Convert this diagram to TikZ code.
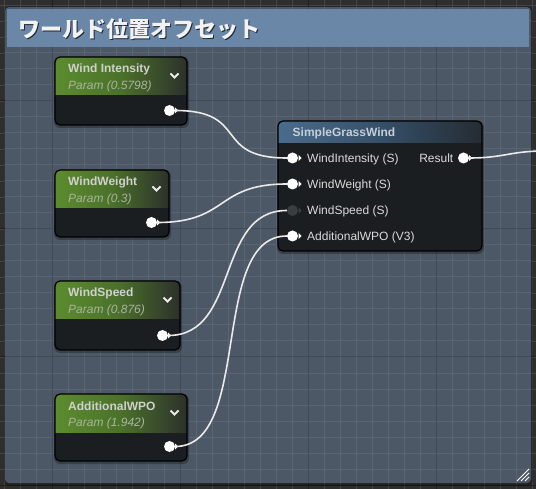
\documentclass[tikz,border=0pt]{standalone}
\usepackage{fontspec}
\setmainfont{Liberation Sans}
\newfontfamily\jpfont{Noto Sans CJK JP}
\definecolor{outerbg}{HTML}{2E2E2E}
\definecolor{outerline}{HTML}{1F1F1F}
\definecolor{combg}{HTML}{4D5866}
\definecolor{minorline}{HTML}{5A6573}
\definecolor{majorline}{HTML}{414A55}
\definecolor{hdrblue}{HTML}{6B87A8}
\definecolor{nodebody}{HTML}{1B1E20}
\definecolor{greenA}{HTML}{5C8C2E}
\definecolor{greenB}{HTML}{4B712A}
\definecolor{greenC}{HTML}{2C302B}
\definecolor{blueA}{HTML}{4A6C8C}
\definecolor{blueB}{HTML}{35506A}
\definecolor{blueC}{HTML}{252C33}
\definecolor{titletext}{HTML}{D0D0D0}
\definecolor{paramtext}{HTML}{A9B59C}
\definecolor{pintext}{HTML}{DADADA}
\definecolor{sgwtext}{HTML}{C6CED6}
\definecolor{wirecol}{HTML}{EAEAEA}
\definecolor{pinoff}{HTML}{3A3E41}
\tikzset{
  nodebox/.style={fill=nodebody, rounded corners=5pt, inner sep=0pt, outer sep=0pt},
  nodeborder/.style={draw=black, line width=1.2pt, rounded corners=5pt},
  nodeshadow/.style={fill=black, opacity=0.28, rounded corners=6pt},
  titlestyle/.style={inner sep=0pt, text=titletext, font=\bfseries\fontsize{12}{14}\selectfont},
  paramstyle/.style={inner sep=0pt, text=paramtext, font=\itshape\fontsize{12}{14}\selectfont},
  pinlabel/.style={inner sep=0pt, text=pintext, font=\fontsize{12}{14}\selectfont},
  pinc/.style={circle, fill=white, inner sep=0pt, minimum size=11pt},
  pincoff/.style={circle, fill=pinoff, inner sep=0pt, minimum size=11pt},
  chev/.style={draw=white!92!black, line width=1.8pt},
  wire/.style={draw=wirecol, line width=1.6pt},
}
\newcommand\paramnode[7]{%
  \fill[nodeshadow] (#2-1,#3) rectangle (#4+2,#5+3);
  \node[nodebox, anchor=north west, minimum width={#4-#2}, minimum height={#5-#3}] (#1) at (#2,#3) {};
  \begin{scope}
    \clip[rounded corners=5pt] (#2,#3) rectangle (#4,#5);
    \shade[left color=greenA, right color=greenC, middle color=greenB] (#2,#3) rectangle (#4,#3+38);
  \end{scope}
  \draw[nodeborder] (#2,#3) rectangle (#4,#5);
  \node[titlestyle, anchor=base west] (#1-t) at (#2+13,#3+16) {#6};
  \node[paramstyle, anchor=base west] (#1-p) at (#2+13,#3+32.5) {#7};
  \draw[chev] (#4-16.5,#3+16.5) -- (#4-12.5,#3+20.5) -- (#4-8.5,#3+16.5);
  \node[pinc] (#1-out) at (#4-17.5,#5-14.5) {};
  \fill[white] (#4-12,#5-17.5) -- (#4-9,#5-14.5) -- (#4-12,#5-11.5) -- cycle;
}
\begin{document}
\begin{tikzpicture}[x=1pt,y=-1pt]
\useasboundingbox (0,0) rectangle (536,489);
\clip (0,0) rectangle (536,489);
% outer background
\fill[outerbg] (0,0) rectangle (536,489);
\foreach \x in {4,20,...,532} \draw[gray!30!outerbg, line width=0.8pt] (\x,0) -- (\x,489);
\foreach \y in {5,21,...,485} \draw[gray!30!outerbg, line width=0.8pt] (0,\y) -- (536,\y);
\foreach \x in {52,180,308,436} \draw[outerline, line width=1pt] (\x,0) -- (\x,489);
\foreach \y in {101,229,357,485} \draw[outerline, line width=1pt] (0,\y) -- (536,\y);
% comment box
\fill[black, opacity=0.25, rounded corners=5pt] (4,6) rectangle (533,486);
\fill[combg, rounded corners=4pt] (5,7) rectangle (531,483);
\begin{scope}
  \clip[rounded corners=4pt] (5,7) rectangle (531,483);
  \foreach \x in {4,20,...,532} \draw[minorline, line width=1pt] (\x,0) -- (\x,489);
  \foreach \y in {5,21,...,485} \draw[minorline, line width=1pt] (0,\y) -- (536,\y);
  \foreach \x in {52,180,308,436} \draw[majorline, line width=1pt] (\x,0) -- (\x,489);
  \foreach \y in {101,229,357,485} \draw[majorline, line width=1pt] (0,\y) -- (536,\y);
\end{scope}
% header
\fill[hdrblue] (7,9) rectangle (529,47);
\node[anchor=base west, inner sep=0pt, text=black, opacity=0.7, font=\jpfont\bfseries\fontsize{22}{24}\selectfont] (hdrshadow) at (19.5,39) {ワールド位置オフセット};
\node[anchor=base west, inner sep=0pt, text=white!95!black, font=\jpfont\bfseries\fontsize{22}{24}\selectfont] (hdr) at (18,37.5) {ワールド位置オフセット};
% resize grip
\draw[white, line width=1pt] (517,481) -- (529,469) (521,481) -- (529,473) (525,481) -- (529,477);
% parameter nodes
\paramnode{wi}{55}{57}{187}{125}{Wind Intensity}{Param (0.5798)}
\paramnode{ww}{55}{170}{169}{237}{WindWeight}{Param (0.3)}
\paramnode{ws}{55}{281}{180}{350}{WindSpeed}{Param (0.876)}
\paramnode{aw}{55}{394}{187}{461}{AdditionalWPO}{Param (1.942)}
% SimpleGrassWind node
\fill[nodeshadow] (277,121) rectangle (484,254);
\node[nodebox, anchor=north west, minimum width=204, minimum height=130] (sgw) at (278,121) {};
\begin{scope}
  \clip[rounded corners=5pt] (278,121) rectangle (482,251);
  \shade[left color=blueA, right color=blueC, middle color=blueB] (278,121) rectangle (482,143);
\end{scope}
\draw[nodeborder] (278,121) rectangle (482,251);
\node[inner sep=0pt, anchor=base west, text=sgwtext, font=\bfseries\fontsize{12}{14}\selectfont] (sgw-t) at (292.5,136.5) {SimpleGrassWind};
\node[pinc] (in1) at (292.5,158) {};
\node[pinc] (in2) at (292.5,184) {};
\node[pincoff] (in3) at (292.5,210.5) {};
\node[pinc] (in4) at (292.5,236) {};
\fill[white] (298.5,155) -- (301.5,158) -- (298.5,161) -- cycle;
\fill[white] (298.5,181) -- (301.5,184) -- (298.5,187) -- cycle;
\fill[pinoff] (298.5,207.5) -- (301.5,210.5) -- (298.5,213.5) -- cycle;
\fill[white] (298.5,233) -- (301.5,236) -- (298.5,239) -- cycle;
\node[pinlabel, anchor=base west] (l1) at (307,162.3) {WindIntensity (S)};
\node[pinlabel, anchor=base west] (l2) at (307,188.3) {WindWeight (S)};
\node[pinlabel, anchor=base west] (l3) at (307,214.8) {WindSpeed (S)};
\node[pinlabel, anchor=base west] (l4) at (307,240.3) {AdditionalWPO (V3)};
\node[pinlabel, anchor=base east] (lres) at (453.5,162.3) {Result};
\node[pinc] (res) at (463.5,158) {};
\fill[white] (469,155) -- (472,158) -- (469,161) -- cycle;
\coordinate (resend) at (545,151);
% wires
\draw[wire] (wi-out.east) .. controls +(75,0) and +(-75,0) .. (in1.west);
\draw[wire] (ww-out.east) .. controls +(72,0) and +(-72,0) .. (in2.west);
\draw[wire] (ws-out.east) .. controls +(72,0) and +(-72,0) .. (in3.west);
\draw[wire] (aw-out.east) .. controls +(78,0) and +(-78,0) .. (in4.west);
\draw[wire] (res.east) .. controls +(35,0) and +(-35,0) .. (resend);
\end{tikzpicture}
\end{document}
